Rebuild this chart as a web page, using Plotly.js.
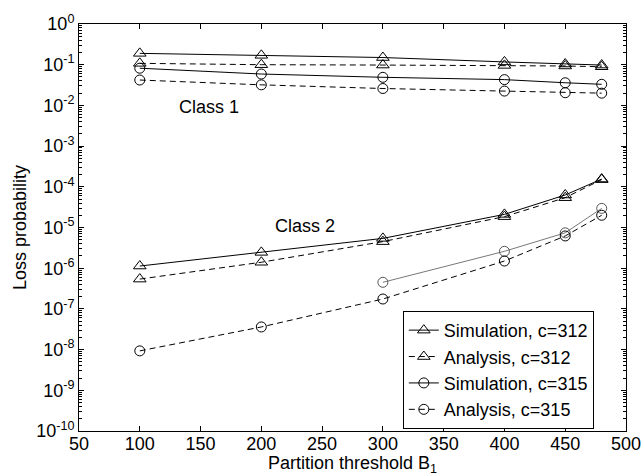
<!DOCTYPE html>
<html>
<head>
<meta charset="utf-8">
<script src="https://cdn.plot.ly/plotly-3.0.1.min.js"></script>
<style>html,body{margin:0;padding:0;background:#fff;}</style>
</head>
<body>
<div id="chart" style="width:644px;height:476px;"></div>
<script>
// Partition threshold B1
const B = [100, 200, 300, 400, 450, 480];
const B_sim315_class2 = [300, 400, 450, 480];

// Class 1 loss probabilities
const sim312_class1 = [0.19, 0.17, 0.15, 0.117, 0.104, 0.098];
const ana312_class1 = [0.108, 0.100, 0.098, 0.096, 0.093, 0.089];
const sim315_class1 = [0.082, 0.059, 0.049, 0.043, 0.036, 0.033];
const ana315_class1 = [0.042, 0.032, 0.026, 0.0225, 0.0205, 0.020];

// Class 2 loss probabilities
const sim312_class2 = [1.13e-6, 2.45e-6, 5.4e-6, 2.1e-5, 6.3e-5, 1.55e-4];
const ana312_class2 = [5.4e-7, 1.4e-6, 4.5e-6, 1.85e-5, 5.4e-5, 1.5e-4];
const sim315_class2 = [4.5e-7, 2.6e-6, 7.4e-6, 2.95e-5];
const ana315_class2 = [9.3e-9, 3.6e-8, 1.75e-7, 1.5e-6, 6.2e-6, 2.0e-5];

const seriesNames = ['Simulation, c=312', 'Analysis, c=312', 'Simulation, c=315', 'Analysis, c=315'];
const yTickVals = [1e-10, 1e-9, 1e-8, 1e-7, 1e-6, 1e-5, 1e-4, 1e-3, 1e-2, 1e-1, 1];
const yTickText = ['10<sup>-10</sup>', '10<sup>-9</sup>', '10<sup>-8</sup>', '10<sup>-7</sup>', '10<sup>-6</sup>',
  '10<sup>-5</sup>', '10<sup>-4</sup>', '10<sup>-3</sup>', '10<sup>-2</sup>', '10<sup>-1</sup>', '10<sup>0</sup>'];

const DASH = '6px,4px';
function tr(x, y, name, sym, dash, show, color, width) {
  return {
    x: x, y: y, name: name, type: 'scatter', mode: 'lines+markers',
    showlegend: show,
    line: {color: color || '#000', width: width || 1, dash: dash},
    marker: {symbol: sym, size: sym === 'triangle-up-open' ? 11 : 10,
             color: color || '#000', line: {width: 1, color: color || '#000'}}
  };
}

const data = [
  tr(B, sim312_class1, seriesNames[0], 'triangle-up-open', 'solid', true),
  tr(B, ana312_class1, seriesNames[1], 'triangle-up-open', DASH, true),
  tr(B, sim315_class1, seriesNames[2], 'circle-open', 'solid', true),
  tr(B, ana315_class1, seriesNames[3], 'circle-open', DASH, true),
  tr(B, sim312_class2, seriesNames[0], 'triangle-up-open', 'solid', false),
  tr(B, ana312_class2, seriesNames[1], 'triangle-up-open', DASH, false),
  tr(B_sim315_class2, sim315_class2, seriesNames[2], 'circle-open', 'solid', false, '#555', 0.8),
  tr(B, ana315_class2, seriesNames[3], 'circle-open', DASH, false)
];

const FONT = 'Liberation Sans, Arial, Helvetica, sans-serif';
const layout = {
  width: 644, height: 476,
  margin: {l: 79, r: 18, t: 24, b: 45},
  paper_bgcolor: '#fff', plot_bgcolor: '#fff',
  font: {family: FONT, color: '#000', size: 18},
  showlegend: true,
  legend: {
    x: 0.592, y: 0.295, xanchor: 'left', yanchor: 'top',
    bgcolor: '#fff', bordercolor: '#000', borderwidth: 1,
    font: {family: FONT, size: 18, color: '#000'},
    traceorder: 'normal', itemwidth: 30, tracegroupgap: 0
  },
  xaxis: {
    range: [50, 500], dtick: 50, tick0: 50,
    showgrid: false, zeroline: false,
    showline: true, linecolor: '#000', linewidth: 1, mirror: 'ticks',
    ticks: 'inside', ticklen: 5, tickcolor: '#000',
    ticklabelstandoff: -4,
    tickfont: {family: FONT, size: 18},
    title: {text: 'Partition threshold B<sub>1</sub>', font: {family: FONT, size: 18}, standoff: 0}
  },
  yaxis: {
    type: 'log', range: [-10, 0],
    tickmode: 'array', tickvals: yTickVals, ticktext: yTickText,
    showgrid: false, zeroline: false,
    showline: true, linecolor: '#000', linewidth: 1, mirror: 'ticks',
    ticks: 'inside', ticklen: 5, tickcolor: '#000',
    tickfont: {family: FONT, size: 18},
    minor: {ticks: 'inside', ticklen: 3, tickcolor: '#000', tickmode: 'linear', dtick: 'D1', showgrid: false},
    title: {text: 'Loss probability', font: {family: FONT, size: 18}, standoff: 4}
  },
  annotations: [
    {x: 157, y: -2.04, xref: 'x', yref: 'y', text: 'Class 1', showarrow: false, font: {family: FONT, size: 18}},
    {x: 236, y: -4.96, xref: 'x', yref: 'y', text: 'Class 2', showarrow: false, font: {family: FONT, size: 18}}
  ]
};

Plotly.newPlot('chart', data, layout, {displayModeBar: false, staticPlot: true});
</script>
</body>
</html>
